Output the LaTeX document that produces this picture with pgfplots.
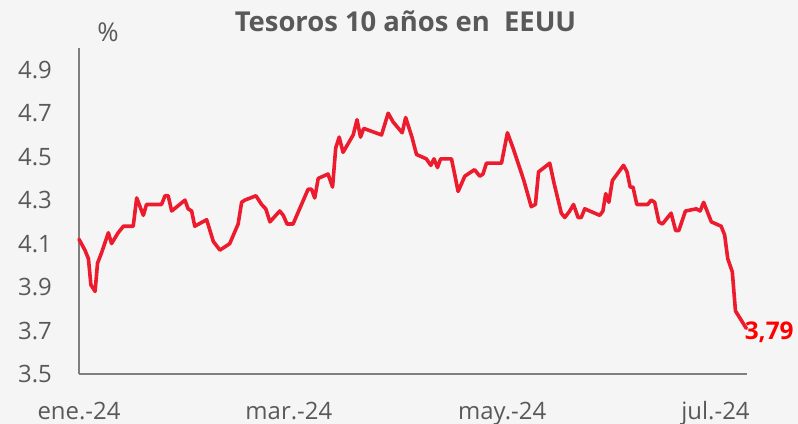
\documentclass[border=0pt]{standalone}
\usepackage{fontspec}
\setmainfont{Open Sans}
\usepackage{pgfplots}
\pgfplotsset{compat=1.18}
\definecolor{bg}{HTML}{F5F5F5}
\definecolor{txt}{HTML}{595959}
\definecolor{axc}{HTML}{7F7F7F}
\definecolor{lred}{HTML}{EC1C2E}
\definecolor{lblred}{HTML}{FF0000}
\begin{document}
\begin{tikzpicture}
\fill[bg] (-79bp,-50bp) rectangle (719bp,374bp);
\begin{axis}[
  at={(0,0)}, anchor=south west,
  scale only axis, width=668bp, height=326bp,
  xmin=0, xmax=191, ymin=3.5, ymax=5.0,
  axis x line*=bottom, axis y line*=left,
  axis line style={axc, line width=1.5bp, -},
  xtick={0,60,121,182},
  xticklabels={ene.-24, mar.-24, may.-24, jul.-24},
  ytick={3.5,3.7,3.9,4.1,4.3,4.5,4.7,4.9},
  yticklabels={3.5,3.7,3.9,4.1,4.3,4.5,4.7,4.9},
  /pgf/number format/assume math mode=true,
  tick label style={font=\fontsize{24}{24}\selectfont, text=txt},
  major tick length=0pt,
  y tick label style={anchor=east, inner sep=0pt, xshift=-27bp},
  x tick label style={anchor=north, inner sep=0pt, yshift=-28.5bp, text height=17bp, text depth=5bp},
  clip=false,
]
\addplot[lred, line width=3.6bp, line join=round, line cap=round] coordinates {
(0,4.12) (1.7,4.07) (2.7,4.03) (3.4,3.91) (4.6,3.88) (5.3,4.01) (6.5,4.06)
(8.4,4.15) (9.3,4.10) (11.2,4.15) (12.7,4.18) (15.5,4.18) (16.5,4.31)
(18.4,4.23) (19.3,4.28) (23.6,4.28) (24.6,4.32) (25.5,4.32) (26.5,4.25)
(30.3,4.30) (31.2,4.26) (32.2,4.25) (33.1,4.18) (36.5,4.21) (38.4,4.11)
(40.3,4.07) (43.1,4.10) (45.5,4.19) (46.5,4.29) (47.4,4.30) (50.6,4.32)
(52.2,4.28) (53.4,4.26) (54.6,4.20) (57.4,4.25) (58.4,4.23) (59.5,4.19)
(61.2,4.19) (65.5,4.35) (66.5,4.35) (67.4,4.31) (68.4,4.40) (71.2,4.42)
(72.5,4.36) (73.4,4.54) (74.4,4.59) (75.5,4.52) (78.4,4.60) (79.5,4.67)
(80.5,4.59) (81.4,4.63) (86.5,4.60) (88.4,4.70) (89.8,4.66) (92.4,4.61)
(93.4,4.68) (95.2,4.59) (96.5,4.51) (99.3,4.49) (100.6,4.46) (101.5,4.49)
(102.5,4.45) (103.4,4.49) (106.5,4.49) (107.4,4.42) (108.4,4.34) (110.3,4.41)
(113.1,4.44) (114.6,4.41) (115.5,4.42) (116.5,4.47) (117.4,4.47) (120.8,4.47)
(122.5,4.61) (124.1,4.54) (127.2,4.39) (129.3,4.27) (130.5,4.28) (131.4,4.43)
(134.6,4.47) (135.8,4.38) (137.9,4.24) (138.9,4.22) (140.3,4.25) (141.4,4.28)
(142.7,4.22) (143.6,4.22) (144.6,4.26) (148.9,4.23) (149.8,4.25) (150.6,4.33)
(151.5,4.29) (152.5,4.39) (155.7,4.46) (156.7,4.43) (157.6,4.36) (158.4,4.36)
(159.5,4.28) (162.6,4.28) (163.6,4.30) (164.6,4.29) (165.8,4.20) (166.8,4.19)
(169.3,4.24) (170.6,4.16) (171.5,4.16) (173.4,4.25) (176.5,4.26) (177.6,4.25)
(178.6,4.29) (180.8,4.20) (183.6,4.18) (184.6,4.14) (185.5,4.03) (186.8,3.97)
(187.7,3.79) (190.8,3.71)
};
\node[anchor=base west, inner sep=0pt, text=lblred, font=\fontsize{24.5}{24.5}\selectfont\bfseries] at (axis cs:190.3,3.66) {3,79};
\end{axis}
\node[anchor=base, inner sep=0pt, text=txt, font=\fontsize{27.5}{27.5}\selectfont\bfseries] at (326.5bp,342bp) {Tesoros 10 años en\ \ EEUU};
\node[anchor=base, inner sep=0pt, text=txt, font=\fontsize{26}{26}\selectfont] at (29bp,332bp) {\%};
\pgfresetboundingbox
\path (-79bp,-50bp) rectangle (719bp,374bp);
\end{tikzpicture}
\end{document}
